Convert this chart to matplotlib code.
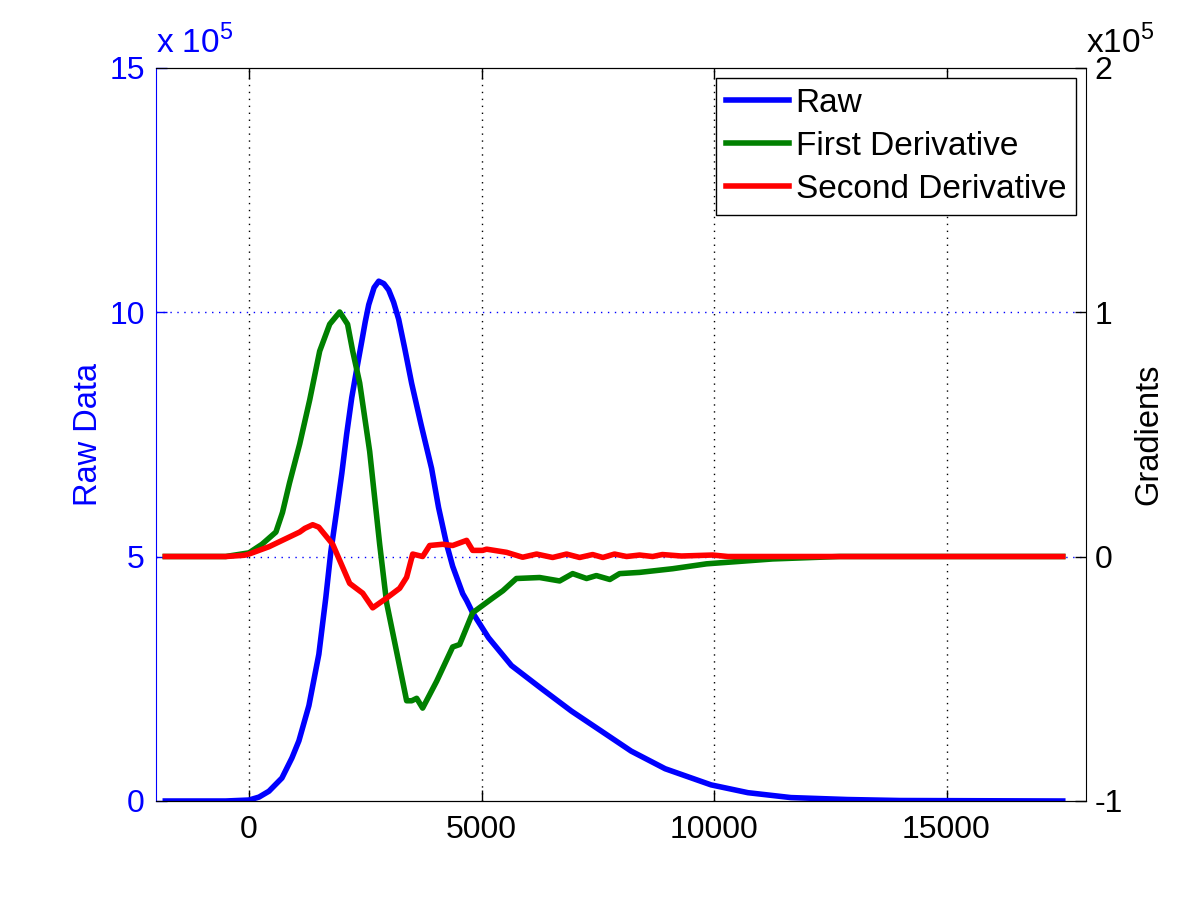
import matplotlib
matplotlib.use("Agg")
import matplotlib.pyplot as plt
import numpy as np

plt.rcParams['font.family'] = ['Liberation Sans', 'DejaVu Sans']
plt.rcParams['mathtext.fontset'] = 'custom'
plt.rcParams['mathtext.rm'] = 'Liberation Sans'
plt.rcParams['axes.unicode_minus'] = False

# Raw data (units of 1e5)
raw_x = [-1800, -500, 0, 215, 429, 708, 923, 1073, 1288, 1502, 1652, 1760, 1880, 1996,
         2100, 2210, 2320, 2425, 2500, 2575, 2690, 2790, 2900, 3004, 3110, 3219, 3350, 3498,
         3700, 3927, 4077, 4250, 4380, 4596, 4680, 4810, 5150, 5644, 6288, 6932, 7576,
         8219, 8949, 9936, 10730, 11653, 12876, 14000, 17500]
raw_y = [0, 0, 0.02, 0.08, 0.2, 0.47, 0.88, 1.23, 1.95, 3.0, 4.16, 5.1, 5.9, 6.7,
         7.5, 8.25, 8.85, 9.4, 9.8, 10.15, 10.5, 10.63, 10.58, 10.45, 10.2, 9.85, 9.25, 8.54,
         7.7, 6.8, 6.0, 5.25, 4.8, 4.24, 4.1, 3.85, 3.34, 2.77, 2.3, 1.84, 1.43,
         1.02, 0.66, 0.33, 0.17, 0.07, 0.03, 0.01, 0]

# First derivative (units of 1e5)
d1_x = [-1800, -500, 0, 279, 579, 720, 870, 1090, 1305, 1520, 1735, 1950, 2120, 2230,
        2380, 2595, 2810, 2960, 3175, 3390, 3500, 3606, 3734, 4036, 4380, 4530, 4810,
        5240, 5460, 5750, 6250, 6680, 6960, 7260, 7470, 7760, 7970, 8400, 9110, 9840,
        11260, 12700, 17500]
d1_y = [0, 0, 0.015, 0.05, 0.1, 0.18, 0.3, 0.46, 0.64, 0.84, 0.95, 1.0, 0.95, 0.84,
        0.71, 0.43, 0.05, -0.19, -0.39, -0.59, -0.59, -0.58, -0.62, -0.51, -0.37, -0.36, -0.23,
        -0.17, -0.14, -0.09, -0.086, -0.1, -0.07, -0.09, -0.078, -0.094, -0.07, -0.065, -0.05, -0.03,
        -0.01, 0, 0]

# Second derivative (units of 1e5)
d2_x = [-1800, -500, -100, 0, 430, 1090, 1200, 1370, 1500, 1800, 2165, 2445, 2660, 2960,
        3240, 3390, 3520, 3734, 3885, 4165, 4380, 4680, 4810, 5025, 5110, 5540, 5885,
        6185, 6530, 6830, 7110, 7390, 7610, 7860, 8120, 8400, 8680, 8890, 9300, 9970,
        10300, 17500]
d2_y = [0, 0, 0.005, 0.01, 0.04, 0.1, 0.115, 0.13, 0.12, 0.05, -0.11, -0.15, -0.21, -0.17,
        -0.13, -0.085, 0.01, 0, 0.045, 0.05, 0.045, 0.066, 0.025, 0.025, 0.03, 0.017, -0.003,
        0.01, -0.004, 0.01, -0.004, 0.008, -0.004, 0.01, 0, 0.006, 0, 0.008, 0.002, 0.006,
        0, 0]

blue = '#0000ff'
green = '#008000'
red = '#ff0000'
fs = 23

fig = plt.figure(figsize=(12, 9), dpi=100)
ax = fig.add_axes([0.13, 0.11, 0.775, 0.815])
ax2 = ax.twinx()

l1, = ax.plot(raw_x, raw_y, color=blue, lw=4, label='Raw')
l2, = ax2.plot(d1_x, d1_y, color=green, lw=4, label='First Derivative')
l3, = ax2.plot(d2_x, d2_y, color=red, lw=4, label='Second Derivative')

ax.set_xlim(-2000, 18000)
ax.set_ylim(0, 15)
ax2.set_ylim(-1, 2)
ax.set_xticks([0, 5000, 10000, 15000])
ax.set_yticks([0, 5, 10, 15])
ax2.set_yticks([-1, 0, 1, 2])

# grid
for xv in [0, 5000, 10000, 15000]:
    ax.axvline(xv, color='black', ls=(0, (1, 4)), lw=1, zorder=0)
for yv in [5, 10]:
    ax.axhline(yv, color=blue, ls=(0, (1, 4)), lw=1, zorder=0)

ax.tick_params(axis='x', direction='in', top=True, length=8, width=1, labelsize=fs, pad=10)
ax.tick_params(axis='y', direction='in', colors=blue, length=8, width=1, labelsize=fs, pad=8)
ax2.tick_params(axis='y', direction='in', colors='black', length=8, width=1, labelsize=fs, pad=6)
for s in ['top', 'bottom']:
    ax.spines[s].set_color('black')
ax.spines['left'].set_color(blue)
ax2.spines['left'].set_visible(False)
ax2.spines['right'].set_color('black')
ax.spines['right'].set_visible(False)

ax.set_ylabel('Raw Data', color=blue, fontsize=fs + 0.5, labelpad=4)
ax2.set_ylabel('Gradients', color='black', fontsize=fs + 0.5, labelpad=8)

ax.text(0.0, 1.010, r'x 10$^{5}$', transform=ax.transAxes, ha='left', va='bottom',
        color=blue, fontsize=fs + 1)
ax.text(1.0, 1.010, r'x10$^{5}$', transform=ax.transAxes, ha='left', va='bottom',
        color='black', fontsize=fs + 1)

leg = ax2.legend(handles=[l1, l2, l3], loc='upper right', fontsize=fs + 1,
                 frameon=True, fancybox=False, edgecolor='black', framealpha=1,
                 borderaxespad=0.3, handlelength=1.9, handletextpad=0.2,
                 borderpad=0.3, labelspacing=0.36)
leg.get_frame().set_linewidth(1)

fig.savefig('out.png', dpi=100)
